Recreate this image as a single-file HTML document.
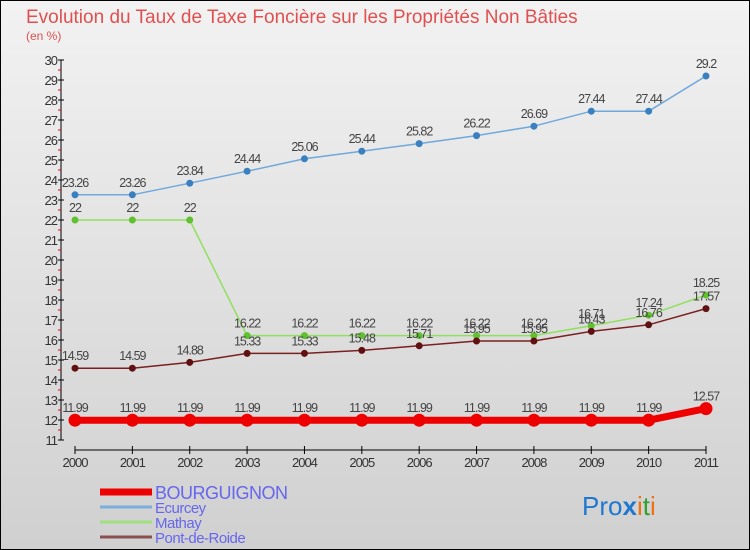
<!DOCTYPE html>
<html><head><meta charset="utf-8"><style>
body{margin:0}
svg{display:block;font-family:"Liberation Sans",sans-serif}
</style></head><body>
<svg id="c" width="750" height="550">
<defs><linearGradient id="bg" x1="0" y1="0" x2="0" y2="1"><stop offset="0" stop-color="#f2f2f2"/><stop offset="1" stop-color="#d0d0d0"/></linearGradient></defs>
<rect x="0.5" y="0.5" width="749" height="549" fill="url(#bg)" stroke="#000"/>
<text x="26" y="23" font-size="19" fill="#e05050">Evolution du Taux de Taxe Foncière sur les Propriétés Non Bâties</text>
<text x="26" y="40" font-size="12" fill="#e05050">(en %)</text>
<g id="axes"></g><g id="series"></g><g id="legend"></g>
<text x="582" y="515" font-size="26" fill="#1e78d0">Pro<tspan fill="#1e78d0" font-weight="bold">x</tspan><tspan fill="#f07010">i</tspan><tspan fill="#30a030">t</tspan><tspan fill="#f07010">i</tspan></text>
</svg>
<script>
const years=[2000,2001,2002,2003,2004,2005,2006,2007,2008,2009,2010,2011];
const bourguignon=[11.99,11.99,11.99,11.99,11.99,11.99,11.99,11.99,11.99,11.99,11.99,12.57];
const ecurcey=[23.26,23.26,23.84,24.44,25.06,25.44,25.82,26.22,26.69,27.44,27.44,29.2];
const mathay=[22,22,22,16.22,16.22,16.22,16.22,16.22,16.22,16.71,17.24,18.25];
const pont=[14.59,14.59,14.88,15.33,15.33,15.48,15.71,15.95,15.95,16.43,16.76,17.57];
const yTicks=[11,12,13,14,15,16,17,18,19,20,21,22,23,24,25,26,27,28,29,30];
const NS="http://www.w3.org/2000/svg";
const X=i=>75+i*(631/11), Y=v=>440-(v-11)*20;
function mk(p,t,a){const e=document.createElementNS(NS,t);for(const k in a)e.setAttribute(k,a[k]);p.appendChild(e);return e;}
const ax=document.getElementById('axes');
let l=mk(ax,'line',{x1:61,y1:Y(30),x2:61,y2:Y(11),stroke:'#000'});


l=mk(ax,'line',{x1:X(0),y1:450,x2:X(11),y2:450,stroke:'#000'});


yTicks.forEach(v=>{
 mk(ax,'line',{x1:58,y1:Y(v),x2:64,y2:Y(v),stroke:'#000'});
 if(v<30) mk(ax,'line',{x1:58,y1:Y(v+0.5),x2:61,y2:Y(v+0.5),stroke:'#e00'});
 const t=mk(ax,'text',{x:57,y:Y(v)+5,'font-size':13,'text-anchor':'end',fill:'#333','letter-spacing':'-1'});
 t.textContent=v;
 
 
});
years.forEach((yr,i)=>{
 mk(ax,'line',{x1:X(i),y1:446,x2:X(i),y2:454,stroke:'#000'});
 const t=mk(ax,'text',{x:X(i),y:467,'font-size':13,'text-anchor':'middle',fill:'#333','letter-spacing':'-1'});
 t.textContent=yr;
 
 
});
const se=document.getElementById('series');
const defs=[[ecurcey,'#6fa8dc','#3a7fc0',1.5,3.5,'ecurcey'],[mathay,'#90e060','#60c030',1.5,3.5,'mathay'],[pont,'#7a2020','#601010',1.5,3.5,'pont-de-roide'],[bourguignon,'#ee0000','#ee0000',7,6.5,'bourguignon']];
defs.forEach(([d,c,pc,w,r,n])=>{
 const g=mk(se,'g',{});
 
 
 const p=mk(g,'polyline',{points:d.map((v,i)=>X(i)+','+Y(v)).join(' '),fill:'none',stroke:c,'stroke-width':w});
 
 
 d.forEach((v,i)=>{
  const ci=mk(g,'circle',{cx:X(i),cy:Y(v),r:r,fill:pc});
  
  
  const t=mk(g,'text',{x:X(i),y:Y(v)-8,'font-size':12.5,'text-anchor':'middle',fill:'#444','letter-spacing':'-1'});
  t.textContent=v;
  
  
 });
});
const lg=document.getElementById('legend');
[['BOURGUIGNON','#ee0000',7,18],['Ecurcey','#7aaedc',3,15],['Mathay','#a0e080',3,15],['Pont-de-Roide','#8a5050',3,15]].forEach(([n,c,w,fs],i)=>{
 const y=492+i*15;
 const g=mk(lg,'g',{});
 
 
 mk(g,'line',{x1:100,y1:y,x2:152,y2:y,stroke:c,'stroke-width':w});
 const t=mk(g,'text',{x:155,y:y+(i==0?7:6),'font-size':fs,fill:'#6666ee','letter-spacing':'-0.5'});
 t.textContent=n;
});
</script>
</body></html>
